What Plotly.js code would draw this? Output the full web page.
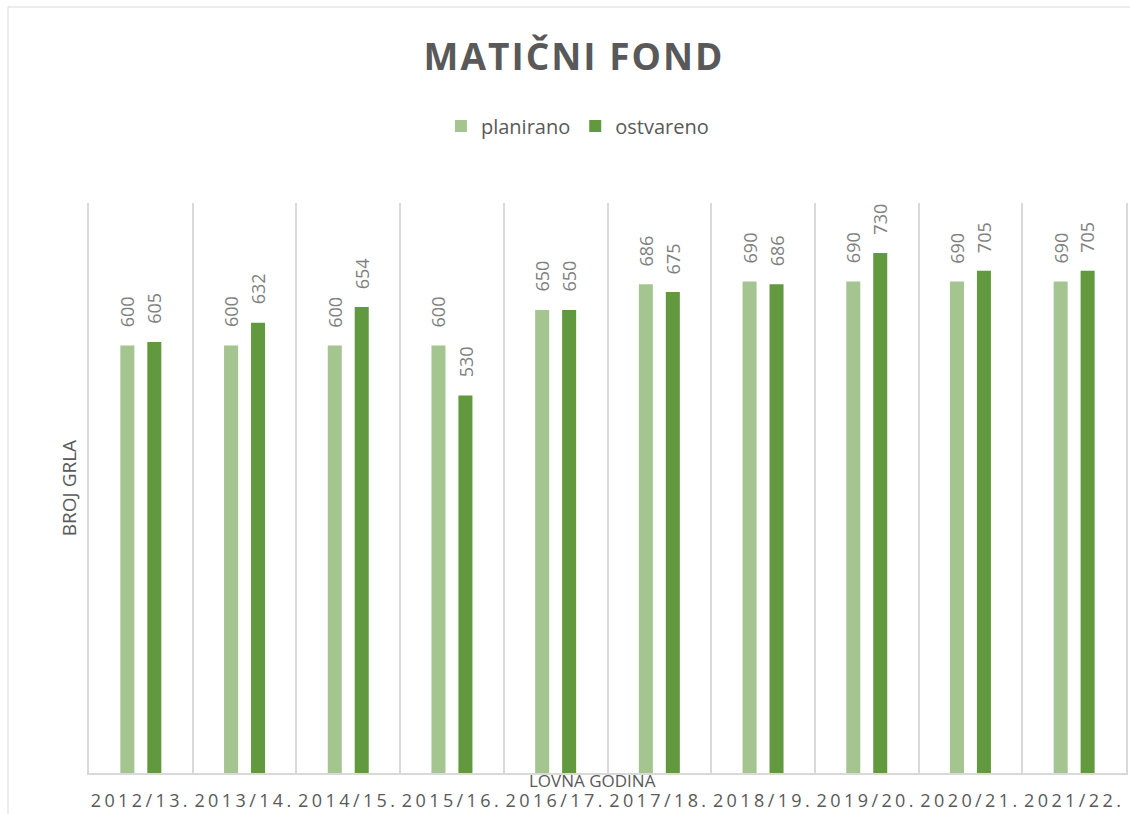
<!DOCTYPE html>
<html>
<head>
<meta charset="utf-8">
<script src="https://cdn.plot.ly/plotly-3.0.1.min.js"></script>
<style>
  body { margin: 0; background: #fff; }
  #chart { width: 1130px; height: 814px; }
  .xtick text { letter-spacing: 3.4px; }
  .gtitle { letter-spacing: 2px; }
</style>
</head>
<body>
<div id="chart"></div>
<script>
const categories = ["2012/13.", "2013/14.", "2014/15.", "2015/16.", "2016/17.", "2017/18.", "2018/19.", "2019/20.", "2020/21.", "2021/22."];
const planirano = [600, 600, 600, 600, 650, 686, 690, 690, 690, 690];
const ostvareno = [605, 632, 654, 530, 650, 675, 686, 730, 705, 705];

const FONT = '"Open Sans", "Liberation Sans", sans-serif';
const GREY = '#595959';
const LABEL_GREY = '#7f7f7f';

function barTrace(name, values, color) {
  return {
    type: 'bar', name: name, x: categories, y: values,
    marker: { color: color },
    hoverinfo: 'x+y+name'
  };
}

const data = [
  barTrace('planirano', planirano, '#a4c490'),
  barTrace('ostvareno', ostvareno, '#62993e')
];

function labelAnnotations(values, shift) {
  return values.map((v, i) => ({
    x: categories[i], y: v, xref: 'x', yref: 'y',
    text: String(v), textangle: -90, showarrow: false,
    xanchor: 'center', yanchor: 'bottom', xshift: shift, yshift: 16,
    font: { family: FONT, size: 18, color: LABEL_GREY }
  }));
}

const annotations = [
  ...labelAnnotations(planirano, -13.5),
  ...labelAnnotations(ostvareno, 13.5),
  {
    text: 'LOVNA GODINA', xref: 'paper', yref: 'paper',
    x: 0.4855, y: -0.0123, xanchor: 'center', yanchor: 'middle', showarrow: false,
    borderpad: 0,
    font: { family: FONT, size: 17, color: GREY }
  }
];

const layout = {
  width: 1130, height: 814,
  margin: { l: 89, r: 4, t: 203, b: 41 },
  paper_bgcolor: '#ffffff', plot_bgcolor: '#ffffff',
  font: { family: FONT, color: GREY },
  title: {
    text: '<b>MATIČNI FOND</b>',
    font: { family: FONT, size: 37, color: GREY },
    x: 0.508, xanchor: 'center', y: 0.930, yanchor: 'middle'
  },
  barmode: 'group', bargap: 0.48, bargroupgap: 0.48,
  showlegend: true,
  legend: {
    orientation: 'h', x: 0.471, xanchor: 'center', y: 1.135, yanchor: 'middle',
    font: { family: FONT, size: 20, color: GREY },
    itemwidth: 30, tracegroupgap: 0, traceorder: 'normal'
  },
  xaxis: {
    type: 'category', tickson: 'boundaries', showgrid: true,
    gridcolor: '#d9d9d9', gridwidth: 1.5,
    showline: true, linecolor: '#d9d9d9', linewidth: 1.5,
    ticks: '', ticklabelstandoff: 11,
    tickfont: { family: FONT, size: 18, color: GREY },
    automargin: false, fixedrange: true
  },
  yaxis: {
    range: [0, 800], showgrid: false, zeroline: false,
    showline: true, mirror: true, linecolor: '#d9d9d9', linewidth: 1.5,
    showticklabels: false, ticks: '', automargin: false, fixedrange: true,
    title: { text: 'BROJ GRLA', font: { family: FONT, size: 19, color: GREY }, standoff: 6 }
  },
  annotations: annotations,
  shapes: [{
    type: 'rect', xref: 'paper', yref: 'paper',
    x0: -0.0781, x1: 1.2, y0: -0.3, y1: 1.3439,
    line: { color: '#d9d9d9', width: 1 }, fillcolor: 'rgba(0,0,0,0)', layer: 'below'
  }]
};

Plotly.newPlot('chart', data, layout, { displayModeBar: false });
</script>
</body>
</html>
